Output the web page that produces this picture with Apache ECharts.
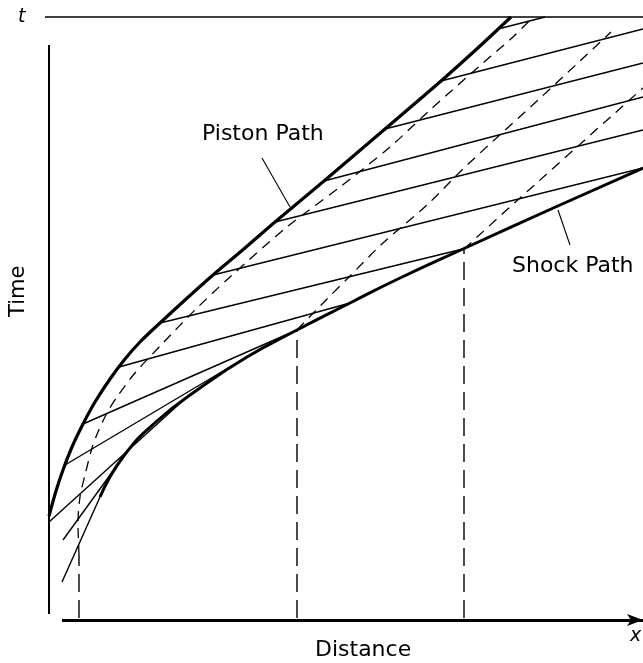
<!DOCTYPE html>
<html>
<head>
<meta charset="utf-8">
<script src="https://cdn.jsdelivr.net/npm/echarts@6/dist/echarts.min.js"></script>
<style>
html,body{margin:0;padding:0;background:#fff;}
#chart{width:643px;height:663px;}
</style>
</head>
<body>
<div id="chart"></div>
<script>
// Data: [distance, time]
var pistonPath = [[49,147],[56,172],[63,193],[72,216],[83,239],[95,261],[110,284],[125,304],[140,321],[160,340],[185,363],[213,388],[245,415],[275,441],[324,482],[385,534],[441,582],[480,617],[511,646]];
var shockPath = [[100,166],[123,206],[157,242],[200,275],[247,306],[297,333],[350,360],[400,385],[463,414],[560,458],[643,495]];
var characteristics = [
  [[62,81],[100,166]],
  [[63,123],[123,206]],
  [[49,141],[187,266]],
  [[65,198],[245,305]],
  [[83,239],[297,333]],
  [[119,296],[350,360]],
  [[160,340],[463,414]],
  [[213,388],[643,495]],
  [[275,441],[643,533]],
  [[324,482],[643,566]],
  [[385,534],[643,600]],
  [[441,582],[643,634]],
  [[498,634],[545,646]]
];
var particle1 = [[79,45],[79,108],[78,140],[80,166],[85,188],[92,215],[98,231],[107,250],[117,266],[135,290],[163,320],[195,353],[230,386],[287,436],[340,476],[390,516],[430,553],[483,600],[513,626],[533,646]];
var particle2 = [[297,45],[297,333],[327,364],[350,387],[383,420],[427,458],[463,494],[503,531],[537,562],[580,602],[611,631]];
var particle3 = [[464,45],[464,414],[520,465],[643,575]];
var topLine = [[45,646],[643,646]];
var timeAxisLine = [[49,618],[49,49]];
var distanceAxisLine = [[62,43],[643,43]];
var pistonPointer = [[262,505],[290,456]];
var shockPointer = [[558,453],[570,418]];
var xRange = [0, 643];
var tRange = [0, 663];

var chart = echarts.init(document.getElementById('chart'), null, {renderer:'canvas'});
var series = [];
function lineSeries(data, width, type, smooth) {
  return {
    type: 'line', data: data, symbol: 'none', smooth: smooth || false,
    silent: true, animation: false,
    lineStyle: {color: '#000', width: width, type: type || 'solid', cap: 'butt'}
  };
}
characteristics.forEach(function (seg) { series.push(lineSeries(seg, 1.4)); });
[particle1, particle2, particle3].forEach(function (p) {
  // vertical drop to the distance axis (first two points), then the rising path
  series.push(lineSeries(p.slice(0, 2), 1.4, [18, 8]));
  series.push(lineSeries(p.slice(1), 1.3, [10, 7], 0.3));
});
series.push(lineSeries(pistonPath, 3.2, 'solid', 0.3));
series.push(lineSeries(shockPath, 3, 'solid', 0.5));
series.push(lineSeries(topLine, 1.6));
series.push(lineSeries(timeAxisLine, 2));
series.push(lineSeries(pistonPointer, 1.1));
series.push(lineSeries(shockPointer, 1.1));
series.push({
  type: 'line', data: [], silent: true, animation: false,
  markLine: {
    silent: true, animation: false,
    symbol: ['none', 'arrow'], symbolSize: [9, 16],
    label: {show: false},
    lineStyle: {color: '#000', width: 3, type: 'solid'},
    data: [[{coord: distanceAxisLine[0]}, {coord: distanceAxisLine[1]}]]
  }
});

var font = '"DejaVu Sans", "Liberation Sans", sans-serif';
chart.setOption({
  animation: false,
  backgroundColor: '#fff',
  grid: {left: 0, right: 0, top: 0, bottom: 0},
  xAxis: {type: 'value', min: xRange[0], max: xRange[1], show: false},
  yAxis: {type: 'value', min: tRange[0], max: tRange[1], show: false},
  series: series,
  graphic: [
    {type: 'text', left: 202, top: 123, style: {text: 'Piston Path', font: '22px ' + font, fill: '#000'}},
    {type: 'text', left: 512, top: 255, style: {text: 'Shock Path', font: '22px ' + font, fill: '#000'}},
    {type: 'text', left: 315, top: 639, style: {text: 'Distance', font: '22px ' + font, fill: '#000'}},
    {type: 'text', x: 8, y: 317, rotation: Math.PI / 2, style: {text: 'Time', font: '21px ' + font, fill: '#000'}},
    {type: 'text', left: 18, top: 8, style: {text: 't', font: 'italic 19px ' + font, fill: '#000'}},
    {type: 'text', left: 630, top: 627, style: {text: 'x', font: 'italic 19px ' + font, fill: '#000'}}
  ]
});
</script>
</body>
</html>
